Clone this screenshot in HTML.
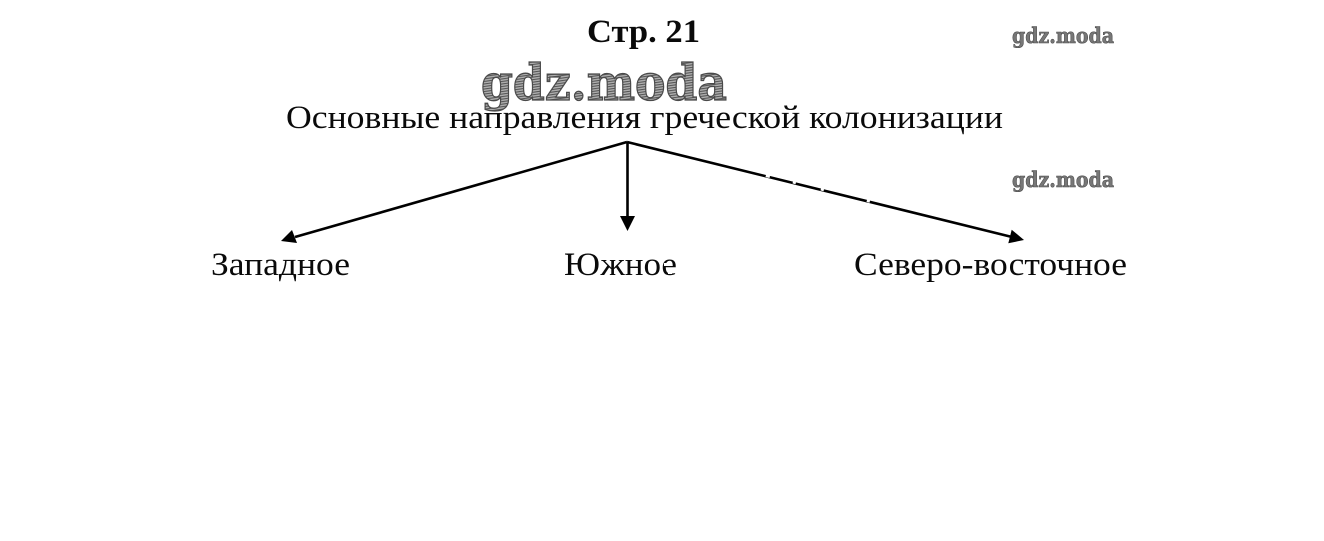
<!DOCTYPE html>
<html lang="ru">
<head>
<meta charset="utf-8">
<title>Основные направления греческой колонизации</title>
<style>
html,body{margin:0;padding:0;background:#fff;width:1324px;height:541px;overflow:hidden}
svg{display:block}
text{font-family:"Liberation Serif","DejaVu Serif",serif;fill:#0a0a0a}
.wm{font-family:"DejaVu Serif","Liberation Serif",serif;font-weight:bold;stroke:#4a4a4a}
</style>
</head>
<body>
<svg width="1324" height="541" viewBox="0 0 1324 541" xmlns="http://www.w3.org/2000/svg">
<defs>
<pattern id="hatch" width="4" height="2.5" patternUnits="userSpaceOnUse" patternTransform="rotate(-8)">
<rect width="4" height="2.5" fill="#b0b0b0"/>
<rect width="4" height="1.1" fill="#555"/>
</pattern>
</defs>
<rect width="1324" height="541" fill="#fff"/>

<text x="587" y="42" font-size="33" font-weight="bold" textLength="113" lengthAdjust="spacingAndGlyphs">Стр. 21</text>

<text class="wm" x="481" y="100" font-size="50" textLength="246" lengthAdjust="spacingAndGlyphs" style="fill:url(#hatch)" stroke-width="1.3">gdz.moda</text>
<text class="wm" x="1012" y="43" font-size="21" textLength="102" lengthAdjust="spacingAndGlyphs" style="fill:#777" stroke-width=".6">gdz.moda</text>
<text class="wm" x="1012" y="187" font-size="21" textLength="102" lengthAdjust="spacingAndGlyphs" style="fill:#777" stroke-width=".6">gdz.moda</text>

<text x="286" y="128" font-size="33" textLength="717" lengthAdjust="spacingAndGlyphs">Основные направления греческой колонизации</text>

<g stroke="#000" stroke-width="2.6" fill="none">
<line x1="627" y1="142" x2="295" y2="237"/>
<line x1="627.5" y1="142" x2="627.5" y2="218"/>
<line x1="627" y1="142" x2="1012" y2="237"/>
</g>
<g fill="#000">
<polygon points="281,241 292,230 297,243"/>
<polygon points="627.5,231 620,216 635,216"/>
<polygon points="1024,240 1011.700,229.700 1008.300,243.300"/>
</g>
<g stroke="#fff" stroke-width="4">
<line x1="766" y1="175" x2="770" y2="176"/>
<line x1="793" y1="181.500" x2="796" y2="182.300"/>
<line x1="821" y1="188.500" x2="824" y2="189.300"/>
<line x1="867" y1="200" x2="870" y2="200.800"/>
</g>

<text x="211" y="275" font-size="33" textLength="139" lengthAdjust="spacingAndGlyphs">Западное</text>
<text x="564" y="275" font-size="33" textLength="113" lengthAdjust="spacingAndGlyphs">Южное</text>
<text x="854" y="275" font-size="33" textLength="273" lengthAdjust="spacingAndGlyphs">Северо-восточное</text>

<g fill="#fff">
<rect x="664" y="263" width="3" height="3"/>
<rect x="668" y="271" width="4" height="3"/>
<rect x="975" y="113" width="3" height="3"/>
<rect x="980" y="122" width="3" height="3"/>
</g>
</svg>
</body>
</html>
